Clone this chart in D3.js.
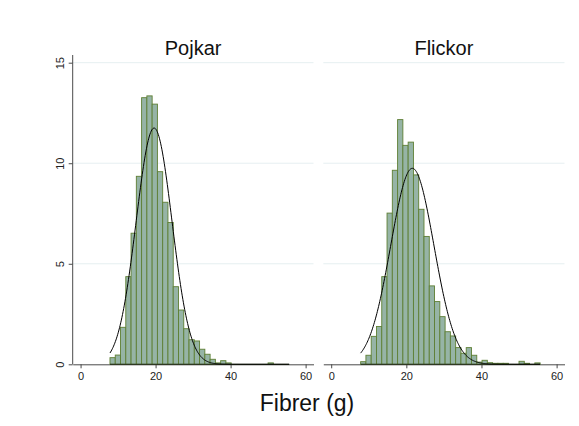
<!DOCTYPE html>
<html>
<head>
<meta charset="utf-8">
<script src="https://cdn.jsdelivr.net/npm/d3@7"></script>
<style>
  body { margin: 0; background: #fff; }
  svg { display: block; font-family: "Liberation Sans", Arial, Helvetica, sans-serif; }
</style>
</head>
<body>
<svg id="chart" width="579" height="426"></svg>
<script>
// Histogram of fibre intake (percent per bin), split by sex
const groups = ["Pojkar", "Flickor"];
const binStart = 7.84;
const binWidth = 1.405;
const pojkarPct = [0.33, 0.46, 1.84, 4.36, 6.52, 9.35, 13.26, 13.35, 12.94, 9.58, 8.06, 7.05,
                   3.86, 2.70, 1.77, 1.22, 1.16, 0.75, 0.50, 0.25, 0.07, 0.18, 0.07, 0,
                   0, 0, 0, 0, 0, 0, 0.07, 0, 0, 0];
const flickorPct = [0.13, 0.45, 1.39, 1.88, 4.36, 7.52, 9.65, 12.17, 10.89, 11.05, 9.42, 7.71,
                    6.36, 3.90, 3.12, 2.37, 1.62, 1.41, 0.83, 0.55, 0.83, 0.45, 0.11, 0.20,
                    0.08, 0.05, 0.05, 0.05, 0, 0, 0.15, 0.05, 0, 0.07];
// Fitted normal curve parameters (mean, sd) per group
const normalMean = [19.6, 21.6];
const normalSd = [4.77, 5.75];
const xTicks = [0, 20, 40, 60];
const yTicks = [0, 5, 10, 15];
const xTitle = "Fibrer (g)";

const series = [pojkarPct, flickorPct];
const svg = d3.select("#chart");

const panelRanges = [[72.7, 313.5], [323.3, 564.5]];
const y = d3.scaleLinear().domain([0, 15]).range([364.3, 62.7]);

const fillColor = "#96b4a6";
const strokeColor = "#5e7f34";
const gridColor = "#e6eff1";
const axisColor = "#4a4a4a";

const nBins = pojkarPct.length;
const binEnd = binStart + nBins * binWidth;

groups.forEach((name, gi) => {
  const [x0, x1] = panelRanges[gi];
  const x = d3.scaleLinear().domain([-2.1, 62.1]).range([x0, x1]);
  const g = svg.append("g");

  // horizontal grid lines
  g.selectAll("line.grid")
    .data(yTicks.filter(t => t > 0))
    .join("line")
    .attr("x1", x0).attr("x2", x1)
    .attr("y1", d => y(d)).attr("y2", d => y(d))
    .attr("stroke", gridColor).attr("stroke-width", 1);

  // x axis
  const xAxis = d3.axisBottom(x).tickValues(xTicks).tickSize(4).tickPadding(4).tickSizeOuter(0);
  const ax = g.append("g").attr("transform", `translate(0,${y(0)})`).call(xAxis);
  ax.select(".domain").attr("stroke", axisColor);
  ax.selectAll(".tick line").attr("stroke", axisColor);
  ax.selectAll(".tick text").attr("font-size", 11).attr("fill", "#222")
    .attr("font-family", "Liberation Sans, Arial, sans-serif");

  // bars
  const bins = series[gi].map((v, i) => ({
    a: binStart + i * binWidth,
    b: binStart + (i + 1) * binWidth,
    v
  }));
  g.selectAll("rect.bar")
    .data(bins.filter(d => d.v > 0))
    .join("rect")
    .attr("x", d => x(d.a))
    .attr("width", d => x(d.b) - x(d.a))
    .attr("y", d => y(d.v))
    .attr("height", d => y(0) - y(d.v))
    .attr("fill", fillColor)
    .attr("stroke", strokeColor)
    .attr("stroke-width", 0.9);
  // empty bins show as a flat outline along the baseline
  g.append("line")
    .attr("x1", x(binStart)).attr("x2", x(binEnd))
    .attr("y1", y(0)).attr("y2", y(0))
    .attr("stroke", "#2f3a22").attr("stroke-width", 1.2);

  // normal density curve scaled to percent per bin
  const mu = normalMean[gi], sd = normalSd[gi];
  const pts = d3.range(0, 301).map(i => {
    const xv = binStart + (binEnd - binStart) * i / 300;
    const z = (xv - mu) / sd;
    return [xv, 100 * binWidth * Math.exp(-0.5 * z * z) / (sd * Math.sqrt(2 * Math.PI))];
  });
  g.append("path")
    .datum(pts)
    .attr("d", d3.line().x(d => x(d[0])).y(d => y(d[1])))
    .attr("fill", "none")
    .attr("stroke", "#000")
    .attr("stroke-width", 1);

  // panel title
  g.append("text")
    .attr("x", (x0 + x1) / 2).attr("y", 55)
    .attr("text-anchor", "middle")
    .attr("font-size", 20)
    .attr("fill", "#111")
    .text(name);
});

// y axis on the left panel only
const yAxis = d3.axisLeft(y).tickValues(yTicks).tickSize(4).tickSizeOuter(0).tickFormat(d3.format("d"));
const ay = svg.append("g").attr("transform", `translate(${panelRanges[0][0]},0)`).call(yAxis);
ay.select(".domain").remove();
ay.append("line").attr("x1", 0).attr("x2", 0).attr("y1", 55).attr("y2", y(0)).attr("stroke", axisColor);
ay.selectAll(".tick line").attr("stroke", axisColor);
ay.selectAll(".tick text")
  .attr("font-size", 11).attr("fill", "#222")
  .attr("font-family", "Liberation Sans, Arial, sans-serif")
  .attr("text-anchor", "middle")
  .attr("dy", 0)
  .attr("x", 0)
  .attr("transform", "translate(-9,0) rotate(-90)");

// x axis title
svg.append("text")
  .attr("x", 307).attr("y", 411)
  .attr("text-anchor", "middle")
  .attr("font-size", 23)
  .attr("fill", "#111")
  .text(xTitle);
</script>
</body>
</html>
